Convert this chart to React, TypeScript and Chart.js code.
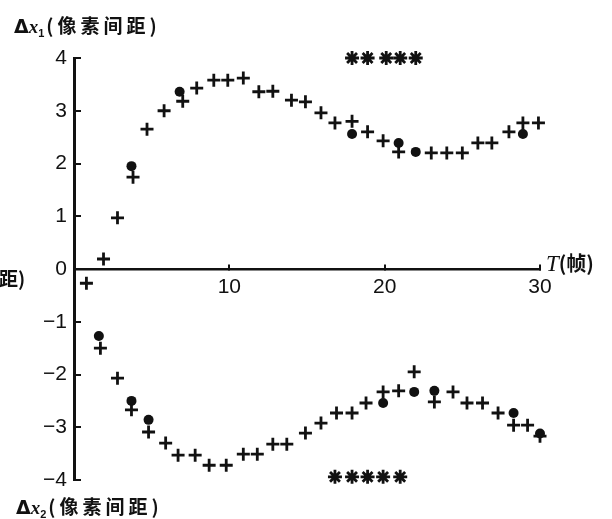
import React, { useEffect, useRef } from 'react';
import { Chart, registerables } from 'chart.js';
Chart.register(...registerables);

// Δx1 series ("+" marks and "●" marks)
const dx1CrossT = [0.8, 1.9, 2.8, 3.8, 4.7, 5.8, 7.0, 7.9, 9.0, 9.9, 10.9, 11.9, 12.8, 14.0, 14.9, 15.9, 16.8, 17.9, 18.9, 19.9, 20.9, 23.0, 24.0, 25.0, 26.0, 26.9, 28.0, 28.9, 29.9];
const dx1CrossV = [-0.27, 0.19, 0.97, 1.74, 2.65, 3.0, 3.18, 3.43, 3.58, 3.58, 3.62, 3.36, 3.37, 3.2, 3.17, 2.96, 2.77, 2.8, 2.6, 2.43, 2.22, 2.2, 2.2, 2.2, 2.39, 2.39, 2.6, 2.77, 2.77];
const dx1DotT = [3.7, 6.8, 17.9, 20.9, 22.0, 28.9];
const dx1DotV = [1.95, 3.36, 2.56, 2.39, 2.22, 2.56];

// Δx2 series
const dx2CrossT = [1.7, 2.8, 3.7, 4.8, 5.9, 6.7, 7.8, 8.7, 9.8, 10.9, 11.8, 12.8, 13.7, 14.9, 15.9, 16.9, 17.9, 18.8, 19.9, 20.9, 21.9, 23.2, 24.4, 25.3, 26.3, 27.3, 28.3, 29.2, 30.0];
const dx2CrossV = [-1.5, -2.07, -2.67, -3.09, -3.3, -3.53, -3.53, -3.72, -3.72, -3.51, -3.51, -3.32, -3.32, -3.11, -2.92, -2.73, -2.73, -2.54, -2.33, -2.31, -1.95, -2.52, -2.33, -2.54, -2.54, -2.73, -2.96, -2.96, -3.17];
const dx2DotT = [1.6, 3.7, 4.8, 19.9, 21.9, 23.2, 28.3, 30.0];
const dx2DotV = [-1.27, -2.5, -2.86, -2.54, -2.33, -2.31, -2.73, -3.12];

// asterisk rows
const starTopT = [17.9, 18.9, 20.1, 21.0, 22.0];
const starTopV = [4.0, 4.0, 4.0, 4.0, 4.0];
const starBotT = [16.8, 17.9, 18.9, 19.9, 21.0];
const starBotV = [-3.94, -3.94, -3.94, -3.94, -3.94];

const xTicks = [10, 20, 30];
const yMin = -4;
const yMax = 4;

const INK = '#111';

const pts = (t: number[], v: number[]) => t.map((x, i) => ({ x, y: v[i] }));

export default function App() {
  const ref = useRef<HTMLCanvasElement | null>(null);

  useEffect(() => {
    const cross = (t: number[], v: number[]) => ({
      data: pts(t, v),
      pointStyle: 'cross' as const,
      pointRadius: 6.5,
      pointBorderWidth: 2.8,
      borderColor: INK,
      backgroundColor: INK,
      showLine: false,
      clip: false as const,
    });
    const dot = (t: number[], v: number[]) => ({
      data: pts(t, v),
      pointStyle: 'circle' as const,
      pointRadius: 5,
      pointBorderWidth: 0,
      borderColor: INK,
      backgroundColor: INK,
      showLine: false,
      clip: false as const,
    });
    const star = (t: number[], v: number[]) => ({
      data: pts(t, v),
      pointStyle: 'star' as const,
      pointRadius: 7,
      pointBorderWidth: 2.8,
      borderColor: INK,
      backgroundColor: INK,
      showLine: false,
      clip: false as const,
    });

    const chart = new Chart(ref.current as HTMLCanvasElement, {
      type: 'scatter',
      data: {
        datasets: [
          cross(dx1CrossT, dx1CrossV),
          dot(dx1DotT, dx1DotV),
          cross(dx2CrossT, dx2CrossV),
          dot(dx2DotT, dx2DotV),
          star(starTopT, starTopV),
          star(starBotT, starBotV),
        ] as any,
      },
      options: {
        animation: false,
        responsive: false,
        maintainAspectRatio: false,
        layout: { padding: { left: 0, right: 72, top: 58, bottom: 39 } },
        plugins: {
          legend: { display: false },
          tooltip: { enabled: false },
          title: { display: false },
        },
        scales: {
          x: {
            type: 'linear',
            min: 0,
            max: 30,
            position: { y: 0 } as any,
            afterBuildTicks: (s: any) => {
              s.ticks = xTicks.map((value) => ({ value }));
            },
            grid: {
              display: true,
              drawOnChartArea: false,
              drawTicks: true,
              tickLength: -6,
              color: INK,
              lineWidth: 2,
            },
            border: { display: true, color: INK, width: 2.5 },
            ticks: {
              color: INK,
              font: { family: '"Liberation Sans", Arial, sans-serif', size: 21 },
              padding: 12,
              maxRotation: 0,
              autoSkip: false,
              callback: (v: any) => String(v),
            },
          },
          y: {
            type: 'linear',
            min: yMin,
            max: yMax,
            position: 'left',
            afterFit: (s: any) => {
              s.width = 74;
            },
            grid: {
              display: true,
              drawOnChartArea: false,
              drawTicks: true,
              tickLength: -7,
              color: INK,
              lineWidth: 2,
            },
            border: { display: true, color: INK, width: 3 },
            ticks: {
              stepSize: 1,
              color: INK,
              font: { family: '"Liberation Sans", Arial, sans-serif', size: 21 },
              padding: 14,
              callback: (v: any) => (Number(v) < 0 ? '\u2212' + Math.abs(Number(v)) : String(v)),
            },
          },
        },
      },
    });
    return () => chart.destroy();
  }, []);

  const cjk = '"Noto Sans CJK SC", "Noto Sans", sans-serif';
  const label = (sub: string) => (
    <>
      <span style={{ fontFamily: '"DejaVu Sans", sans-serif', fontWeight: 700 }}>Δ</span>
      <i style={{ fontFamily: '"Liberation Serif", serif', fontWeight: 700 }}>x</i>
      <span style={{ fontSize: 11, position: 'relative', top: 4, fontFamily: '"Liberation Sans", sans-serif' }}>{sub}</span>
      <span style={{ marginLeft: 2, marginRight: 4 }}>(</span>
      <span style={{ letterSpacing: 4 }}>像素间距</span>
      <span>)</span>
    </>
  );
  const textBase: React.CSSProperties = {
    position: 'absolute',
    color: INK,
    fontFamily: cjk,
    fontWeight: 700,
    whiteSpace: 'nowrap',
  };

  return (
    <div style={{ position: 'fixed', left: 0, top: 0, width: 612, height: 519, background: '#fff', overflow: 'hidden' }}>
      <canvas ref={ref} width={612} height={519} style={{ position: 'absolute', left: 0, top: 0, width: 612, height: 519 }} />
      <div style={{ ...textBase, left: 14, top: 12, fontSize: 19, lineHeight: '26px' }}>{label('1')}</div>
      <div style={{ ...textBase, left: 16, top: 493, fontSize: 19, lineHeight: '26px' }}>{label('2')}</div>
      <div style={{ ...textBase, left: 546, top: 250, fontSize: 20, lineHeight: '26px' }}>
        <i style={{ fontFamily: '"Liberation Serif", serif', fontWeight: 400, fontSize: 23 }}>T</i>
        <span>(帧)</span>
      </div>
      <div style={{ ...textBase, left: -1, top: 265, fontSize: 19, lineHeight: '26px' }}>距)</div>
    </div>
  );
}
